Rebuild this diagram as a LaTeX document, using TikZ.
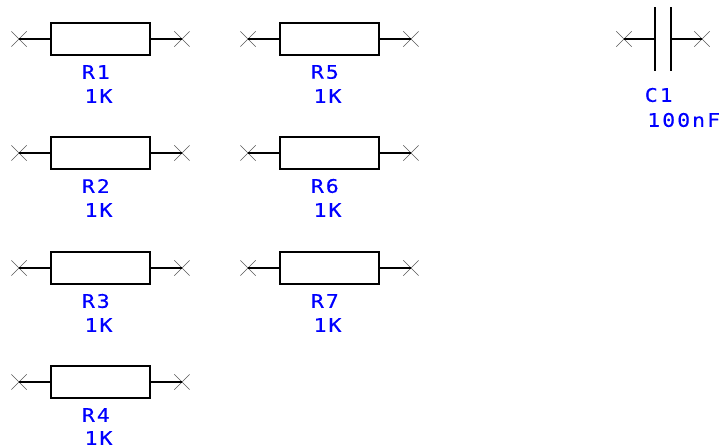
\documentclass[tikz,border=0pt]{standalone}
\usepackage{fontspec}
\usetikzlibrary{positioning,shapes.misc}
\newfontfamily\schfont[LetterSpace=11,FakeStretch=1.15,FakeBold=.4]{DejaVu Sans Mono}
\definecolor{schblue}{RGB}{0,0,255}
\tikzset{
	body/.style={draw=black,line width=1.4pt,minimum width=74.25pt,minimum height=24pt,inner sep=0pt},
	pin/.style={cross out,draw=black!65,line width=.45pt,minimum size=11pt,inner sep=0pt},
	wire/.style={black,line width=1.4pt},
	lbl/.style={text=schblue,font=\schfont\fontsize{14pt}{15pt}\selectfont,inner sep=0pt},
}
\begin{document}
\begin{tikzpicture}[x=.75pt,y=-.75pt,on grid,node distance=23.25pt]
	\useasboundingbox (0,0) rectangle (722,447);

	%first column
	\node[body] (R1) at (100.5,39) {};
	\node[pin,left=of R1.west,anchor=center] (R1a) {};
	\node[pin,right=of R1.east,anchor=center] (R1b) {};
	\draw[wire] (R1a.center) -- (R1) (R1) -- (R1b.center);
	\node[lbl,below=24.75pt of R1,xshift=-3.5pt] (R1ref) {R1};
	\node[lbl,below=42.75pt of R1,xshift=-1.5pt] (R1val) {1K};

	\node[body] (R2) at (100.5,153) {};
	\node[pin,left=of R2.west,anchor=center] (R2a) {};
	\node[pin,right=of R2.east,anchor=center] (R2b) {};
	\draw[wire] (R2a.center) -- (R2) (R2) -- (R2b.center);
	\node[lbl,below=24.75pt of R2,xshift=-3.5pt] (R2ref) {R2};
	\node[lbl,below=42.75pt of R2,xshift=-1.5pt] (R2val) {1K};

	\node[body] (R3) at (100.5,268) {};
	\node[pin,left=of R3.west,anchor=center] (R3a) {};
	\node[pin,right=of R3.east,anchor=center] (R3b) {};
	\draw[wire] (R3a.center) -- (R3) (R3) -- (R3b.center);
	\node[lbl,below=24.75pt of R3,xshift=-3.5pt] (R3ref) {R3};
	\node[lbl,below=42.75pt of R3,xshift=-1.5pt] (R3val) {1K};

	\node[body] (R4) at (100.5,382) {};
	\node[pin,left=of R4.west,anchor=center] (R4a) {};
	\node[pin,right=of R4.east,anchor=center] (R4b) {};
	\draw[wire] (R4a.center) -- (R4) (R4) -- (R4b.center);
	\node[lbl,below=24.75pt of R4,xshift=-3.5pt] (R4ref) {R4};
	\node[lbl,below=42pt of R4,xshift=-1.5pt] (R4val) {1K};

	%second column
	\node[body] (R5) at (329.5,39) {};
	\node[pin,left=of R5.west,anchor=center] (R5a) {};
	\node[pin,right=of R5.east,anchor=center] (R5b) {};
	\draw[wire] (R5a.center) -- (R5) (R5) -- (R5b.center);
	\node[lbl,below=24.75pt of R5,xshift=-3.5pt] (R5ref) {R5};
	\node[lbl,below=42.75pt of R5,xshift=-1.5pt] (R5val) {1K};

	\node[body] (R6) at (329.5,153) {};
	\node[pin,left=of R6.west,anchor=center] (R6a) {};
	\node[pin,right=of R6.east,anchor=center] (R6b) {};
	\draw[wire] (R6a.center) -- (R6) (R6) -- (R6b.center);
	\node[lbl,below=24.75pt of R6,xshift=-3.5pt] (R6ref) {R6};
	\node[lbl,below=42.75pt of R6,xshift=-1.5pt] (R6val) {1K};

	\node[body] (R7) at (329.5,268) {};
	\node[pin,left=of R7.west,anchor=center] (R7a) {};
	\node[pin,right=of R7.east,anchor=center] (R7b) {};
	\draw[wire] (R7a.center) -- (R7) (R7) -- (R7b.center);
	\node[lbl,below=24.75pt of R7,xshift=-3.5pt] (R7ref) {R7};
	\node[lbl,below=42.75pt of R7,xshift=-1.5pt] (R7val) {1K};

	%capacitor
	\coordinate (C1atop) at (655,7);
	\coordinate (C1abot) at (655,71);
	\coordinate (C1btop) at (671,7);
	\coordinate (C1bbot) at (671,71);
	\coordinate (C1l) at (655,39);
	\coordinate (C1r) at (671,39);
	\node[pin,left=of C1l,anchor=center] (C1a) {};
	\node[pin,right=of C1r,anchor=center] (C1b) {};
	\draw[wire] (C1atop) -- (C1abot);
	\draw[wire] (C1btop) -- (C1bbot);
	\draw[wire] (C1a.center) -- (C1l);
	\draw[wire] (C1r) -- (C1b.center);
	\node[lbl,anchor=west] (C1ref) at (644.5,95) {C1};
	\node[lbl,anchor=west] (C1val) at (647,120) {100nF};
\end{tikzpicture}
\end{document}
